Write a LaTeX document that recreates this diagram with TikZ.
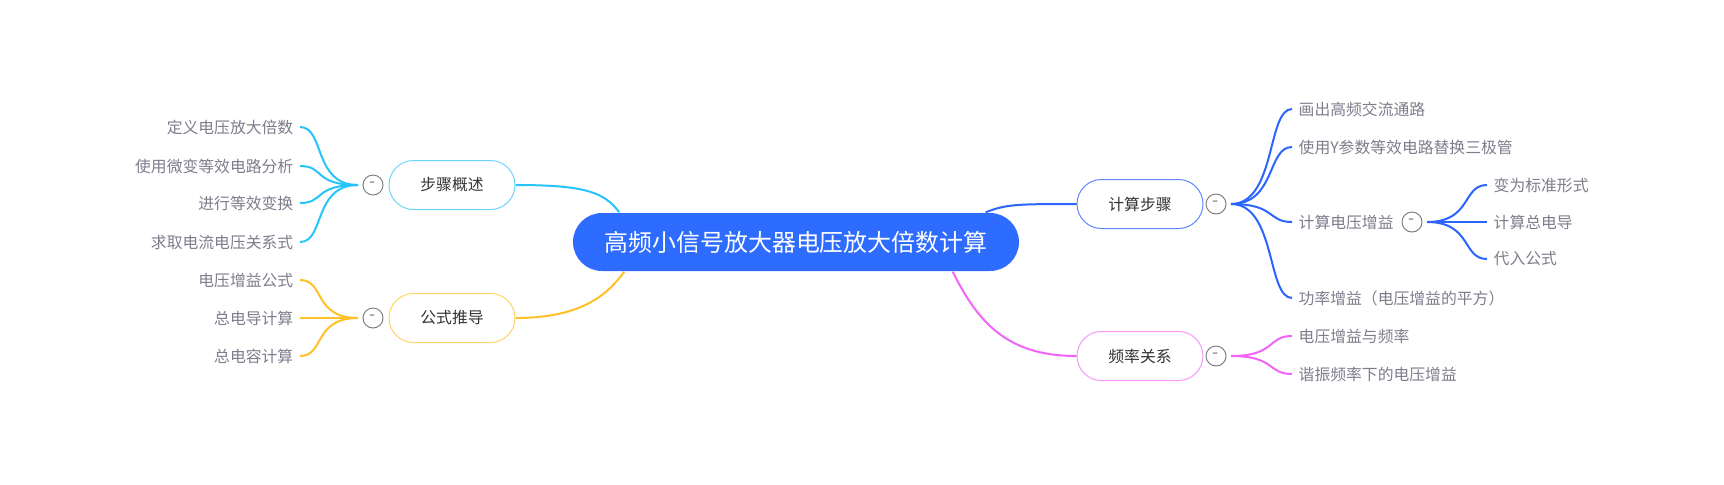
\documentclass[tikz,border=0pt]{standalone}
\usepackage{fontspec}
\setmainfont{Noto Sans CJK SC}
\definecolor{xanhgoc}{RGB}{46,107,255}
\definecolor{lam}{RGB}{38,196,250}
\definecolor{lamnhat}{RGB}{110,212,250}
\definecolor{vang}{RGB}{255,192,40}
\definecolor{vangnhat}{RGB}{255,212,100}
\definecolor{xanh}{RGB}{44,100,255}
\definecolor{xanhnhat}{RGB}{95,135,255}
\definecolor{hong}{RGB}{240,100,250}
\definecolor{hongnhat}{RGB}{245,150,250}
\definecolor{chuxam}{RGB}{125,125,140}
\definecolor{chuden}{RGB}{50,50,50}
\begin{document}
\begin{tikzpicture}[x=.1mm,y=-.1mm,
    goc/.style={fill=xanhgoc,text=white,rounded corners=2.9mm,inner sep=0,
        minimum width=44.6mm,minimum height=5.8mm,font=\fontsize{6.8}{8}\selectfont},
    nhanh/.style={draw,line width=.1mm,rounded corners=2.45mm,text=chuden,
        minimum width=12.6mm,minimum height=4.9mm,font=\fontsize{4.5}{5.5}\selectfont},
    la/.style={text=chuxam,inner sep=.6mm,font=\fontsize{4.5}{5.5}\selectfont},
    thu/.style={circle,draw=gray,line width=.1mm,minimum size=2mm,inner sep=0,
        outer sep=.5mm,text=gray,font=\fontsize{5}{5}\selectfont},
    noi/.style={line width=.2mm},
    ]
    \useasboundingbox (0,0) rectangle (1724,484);
    \node[goc] (R) at (796,242) {高频小信号放大器电压放大倍数计算};
    \node[nhanh,draw=lamnhat] (A) at (452,185) {步骤概述};
    \node[nhanh,draw=vangnhat] (B) at (452,318) {公式推导};
    \node[nhanh,draw=xanhnhat] (C) at (1140,204) {计算步骤};
    \node[nhanh,draw=hongnhat] (D) at (1140,356) {频率关系};
    \node[thu] (cA) at (373,185) {-};
    \node[thu] (cB) at (373,318) {-};
    \node[thu] (cC) at (1216,204) {-};
    \node[thu] (cD) at (1216,356) {-};
    \path
    (300,127) node[la,left] (A1) {定义电压放大倍数} % <<< nhánh 1
    (300,166) node[la,left] (A2) {使用微变等效电路分析}
    (300,203) node[la,left] (A3) {进行等效变换}
    (300,242) node[la,left] (A4) {求取电流电压关系式}
    (300,280) node[la,left] (B1) {电压增益公式} % <<< nhánh 2
    (300,318) node[la,left] (B2) {总电导计算}
    (300,356) node[la,left] (B3) {总电容计算}
    (1292,109) node[la,right] (C1) {画出高频交流通路} % <<< nhánh 3
    (1292,147) node[la,right] (C2) {使用Y参数等效电路替换三极管}
    (1292,222) node[la,right] (C3) {计算电压增益}
    (1292,298) node[la,right] (C4) {功率增益（电压增益的平方）}
    (1487,185) node[la,right] (E1) {变为标准形式}
    (1487,222) node[la,right] (E2) {计算总电导}
    (1487,259) node[la,right] (E3) {代入公式}
    (1292,336) node[la,right] (D1) {电压增益与频率} % <<< nhánh 4
    (1292,374) node[la,right] (D2) {谐振频率下的电压增益};
    \node[thu] (cE) at (1412,222) {-};
    % nối với gốc
    \draw[noi,lam] (A.east) .. controls +(70,0) and +(-15,-20) .. ([xshift=4.7mm]R.north west);
    \draw[noi,vang] (B.east) .. controls +(70,0) and +(-15,20) .. ([xshift=5.2mm]R.south west);
    \draw[noi,xanh] (C.west) .. controls +(-60,0) and +(20,-8) .. ([xshift=-3.4mm]R.north east);
    \draw[noi,hong] (D.west) .. controls +(-70,0) and +(25,50) .. ([xshift=-6.7mm]R.south east);
    % các lá
    \draw[noi,lam] (cA.west) .. controls +(-45,0) and +(25,0) .. (A1.east);
    \draw[noi,lam] (cA.west) .. controls +(-45,0) and +(25,0) .. (A2.east);
    \draw[noi,lam] (cA.west) .. controls +(-45,0) and +(25,0) .. (A3.east);
    \draw[noi,lam] (cA.west) .. controls +(-45,0) and +(25,0) .. (A4.east);
    \draw[noi,vang] (cB.west) .. controls +(-45,0) and +(25,0) .. (B1.east);
    \draw[noi,vang] (cB.west) .. controls +(-45,0) and +(25,0) .. (B2.east);
    \draw[noi,vang] (cB.west) .. controls +(-45,0) and +(25,0) .. (B3.east);
    \draw[noi,xanh] (cC.east) .. controls +(45,0) and +(-25,0) .. (C1.west);
    \draw[noi,xanh] (cC.east) .. controls +(45,0) and +(-25,0) .. (C2.west);
    \draw[noi,xanh] (cC.east) .. controls +(45,0) and +(-25,0) .. (C3.west);
    \draw[noi,xanh] (cC.east) .. controls +(45,0) and +(-25,0) .. (C4.west);
    \draw[noi,xanh] (cE.east) .. controls +(45,0) and +(-25,0) .. (E1.west);
    \draw[noi,xanh] (cE.east) .. controls +(45,0) and +(-25,0) .. (E2.west);
    \draw[noi,xanh] (cE.east) .. controls +(45,0) and +(-25,0) .. (E3.west);
    \draw[noi,hong] (cD.east) .. controls +(45,0) and +(-25,0) .. (D1.west);
    \draw[noi,hong] (cD.east) .. controls +(45,0) and +(-25,0) .. (D2.west);
\end{tikzpicture}
\end{document}
